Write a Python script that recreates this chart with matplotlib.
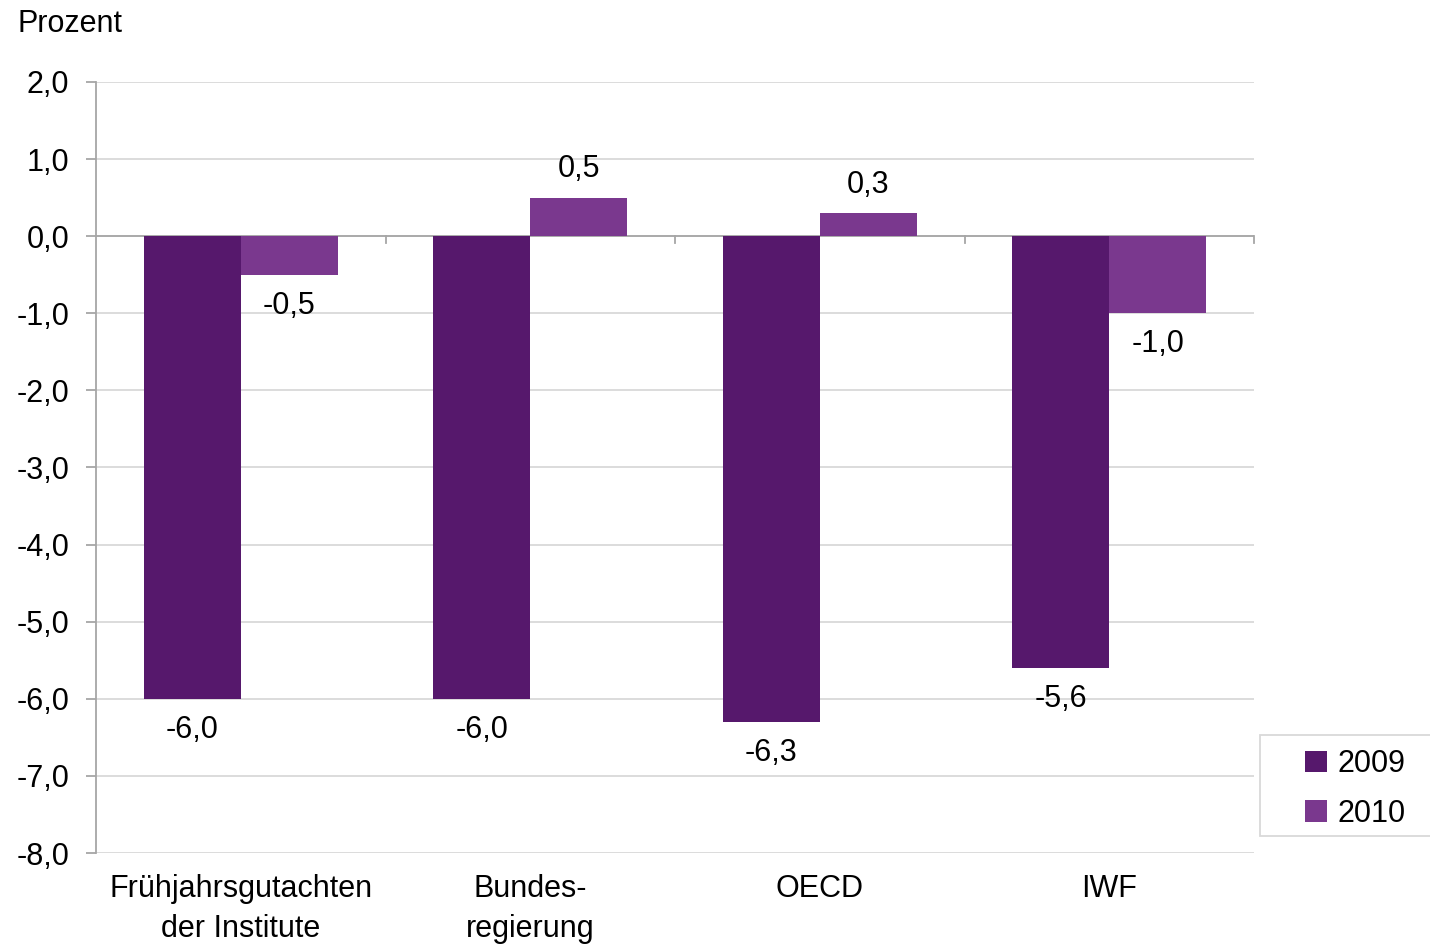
import matplotlib as mpl
import matplotlib.pyplot as plt
from matplotlib.patches import Rectangle
import numpy as np

mpl.rcParams.update({
    "font.family": ["Liberation Sans", "DejaVu Sans"],
    "font.size": 22,
})

categories = ["Frühjahrsgutachten\nder Institute", "Bundes-\nregierung", "OECD", "IWF"]
years = ["2009", "2010"]
values_2009 = [-6.0, -6.0, -6.3, -5.6]
values_2010 = [-0.5, 0.5, 0.3, -1.0]
yticks = [2, 1, 0, -1, -2, -3, -4, -5, -6, -7, -8]

colors = ["#56186C", "#7A388E"]
grid_col = "#d9d9d9"
axis_col = "#a6a6a6"
W, H = 1430, 947


def fmt(v):
    return f"{v:.1f}".replace(".", ",")


fig = plt.figure(figsize=(W / 100, H / 100), dpi=100)
ax = fig.add_axes([96 / W, 1 - 853 / H, (1254 - 96) / W, (853 - 82) / H])

x = np.arange(len(categories))
w = 0.335
series = [values_2009, values_2010]
handles = []
for i, (vals, col, lab) in enumerate(zip(series, colors, years)):
    xs = x + (i - 0.5) * w
    handles.append(ax.bar(xs, vals, width=w, color=col, label=lab, zorder=3))
    for xi, v in zip(xs, vals):
        off = 0.37 if v >= 0 else -0.4
        ax.text(xi, v + off, fmt(v), ha="center", va="center", fontsize=22, zorder=4)

ax.set_xlim(-0.5, len(categories) - 0.5)
ax.set_ylim(-8, 2)
ax.set_yticks(yticks)
ax.set_yticklabels([fmt(t) for t in yticks])
ax.yaxis.grid(True, color=grid_col, lw=1.3, zorder=0)
ax.set_axisbelow(True)

for s in ["top", "right", "bottom"]:
    ax.spines[s].set_visible(False)
ax.spines["left"].set_color(axis_col)
ax.spines["left"].set_linewidth(1.3)
ax.tick_params(axis="y", length=7.2, color=axis_col, width=1.3, pad=12, labelsize=22)

# zero line with category separator ticks
ax.axhline(0, color=axis_col, lw=1.3, zorder=2)
for b in np.arange(0.5, len(categories), 1.0):
    ax.plot([b, b], [0, -0.09], color=axis_col, lw=1.3, zorder=2, clip_on=False)

ax.set_xticks(x)
ax.set_xticklabels(categories, fontsize=22, linespacing=1.45)
ax.tick_params(axis="x", length=0, pad=15)

fig.text(17 / W, 1 - 24 / H, "Prozent", ha="left", va="center", fontsize=22)

# legend frame runs off the right edge of the figure
fig.patches.append(Rectangle((1260 / W, 1 - 836 / H), 200 / W, 101 / H,
                             transform=fig.transFigure, facecolor="white",
                             edgecolor=grid_col, lw=1.3, zorder=5))
leg = fig.legend(handles=handles, labels=years, loc="upper left",
                 bbox_to_anchor=(1299 / W, 1 - 743 / H),
                 frameon=False, handlelength=0.72, handleheight=0.72,
                 handletextpad=0.35, borderpad=0.2, labelspacing=0.65,
                 fontsize=22, borderaxespad=0)
leg.set_zorder(6)

fig.savefig("out.png", dpi=100)
